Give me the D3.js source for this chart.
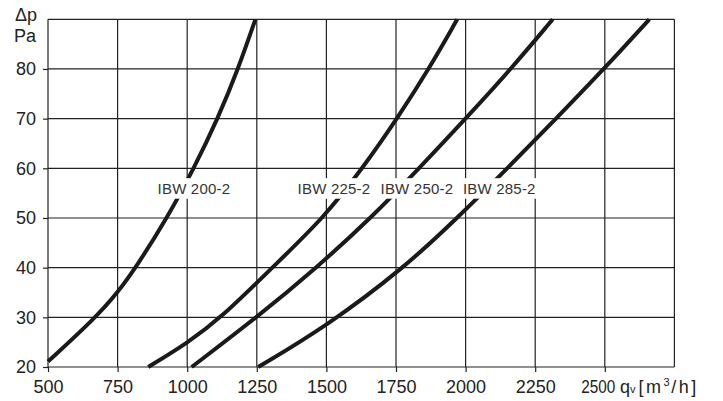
<!DOCTYPE html>
<html><head><meta charset="utf-8">
<script src="https://cdn.jsdelivr.net/npm/d3@7"></script>
<style>
body{margin:0;background:#fff}
svg{display:block}
text{font-family:"Liberation Sans",Arial,sans-serif}
</style></head>
<body><svg id="chart" width="723" height="401"></svg>
<script>
// ---- data ----
const qDomain = [500, 2750];
const pDomain = [20, 90];
const xGridValues = [500, 750, 1000, 1250, 1500, 1750, 2000, 2250, 2500, 2750];
const xTickValues = [500, 750, 1000, 1250, 1500, 1750, 2000, 2250, 2500];
const yGridValues = [20, 30, 40, 50, 60, 70, 80, 90];
const yTickValues = [20, 30, 40, 50, 60, 70, 80];
const seriesNames = ["IBW 200-2", "IBW 225-2", "IBW 250-2", "IBW 285-2"];
const ibw200 = [[500,21.1],[672,30],[750,35],[815,40],[928,50],[1024,60],[1110,70],[1183,80],[1245,90]];
const ibw225 = [[860,20],[1000,24.8],[1124,30],[1305,40],[1490,50],[1630,60],[1754,70],[1868,80],[1970,90]];
const ibw250 = [[1016,20],[1250,30],[1465,40],[1660,50],[1833,60],[2000,70],[2163,80],[2313,90]];
const ibw285 = [[1255,20],[1500,28.2],[1780,40],[1970,50],[2150,60],[2325,70],[2497,80],[2660,90]];
const seriesValues = [ibw200, ibw225, ibw250, ibw285];
const labelQ = [1024, 1527, 1825, 2121];
const labelP = 56;

// ---- chart ----
const svg = d3.select("#chart");
const x = d3.scaleLinear().domain(qDomain).range([48, 674.4]);
const y = d3.scaleLinear().domain(pDomain).range([367, 19.3]);
const gridColor = "#222";

const grid = svg.append("g");
grid.selectAll("line.v").data(xGridValues).join("line").attr("class","v")
  .attr("x1", d => x(d)).attr("x2", d => x(d))
  .attr("y1", y(pDomain[0])).attr("y2", y(pDomain[1]))
  .attr("stroke", gridColor).attr("stroke-width", 1.2);
grid.selectAll("line.h").data(yGridValues).join("line").attr("class","h")
  .attr("y1", d => y(d)).attr("y2", d => y(d))
  .attr("x1", x(qDomain[0])).attr("x2", x(qDomain[1]))
  .attr("stroke", gridColor).attr("stroke-width", 1.2);

const line = d3.line().x(d => x(d[0])).y(d => y(d[1])).curve(d3.curveBasis);
svg.append("g").selectAll("path").data(seriesValues).join("path")
  .attr("d", line).attr("fill", "none").attr("stroke", "#1a1a1a")
  .attr("stroke-width", 4).attr("stroke-linecap", "butt");

// labels with white boxes
const lab = svg.append("g").selectAll("g").data(seriesNames).join("g")
  .attr("transform", (d, i) => `translate(${x(labelQ[i])},${y(labelP)})`);
lab.append("rect").attr("x", -38).attr("y", -10).attr("width", 76).attr("height", 20.5).attr("fill", "#fff");
lab.append("text").attr("text-anchor", "middle").attr("y", 6).attr("font-size", 15)
  .attr("fill", "#333").attr("letter-spacing", 0.2).text(d => d);

// axes
const fmt = d3.format("d");
const yAxis = svg.append("g").attr("transform", `translate(${x(qDomain[0])},0)`)
  .call(d3.axisLeft(y).tickValues(yTickValues).tickFormat(fmt).tickSize(5).tickPadding(7));
const xAxis = svg.append("g").attr("transform", `translate(0,${y(pDomain[0])})`)
  .call(d3.axisBottom(x).tickValues(xTickValues).tickFormat(fmt).tickSize(5).tickPadding(8));
[yAxis, xAxis].forEach(a => {
  a.select(".domain").remove();
  a.selectAll(".tick line").attr("stroke", gridColor).attr("stroke-width", 1.2);
  a.selectAll(".tick text").attr("font-size", 18).attr("fill", "#222")
    .attr("font-family", "'Liberation Sans',Arial,sans-serif");
});
xAxis.selectAll(".tick text").filter(d => d === 2500)
  .attr("dx", -7).attr("textLength", 34).attr("lengthAdjust", "spacingAndGlyphs");

// axis titles
svg.append("text").attr("x", 15).attr("y", 21).attr("font-size", 18).attr("fill", "#222").text("Δp");
svg.append("text").attr("x", 14).attr("y", 42).attr("font-size", 18).attr("fill", "#222").text("Pa");
const unit = svg.append("text").attr("x", 620).attr("y", 393).attr("font-size", 18).attr("fill", "#222");
unit.append("tspan").text("q");
unit.append("tspan").attr("font-size", 11).text("v");
unit.append("tspan").attr("dx", 3).attr("letter-spacing", 2.5).text("[m");
unit.append("tspan").attr("font-size", 11).attr("dy", -7).attr("letter-spacing", 1.5).text("3");
unit.append("tspan").attr("dy", 7).attr("letter-spacing", 2.5).text("/h]");
</script>
</body></html>
